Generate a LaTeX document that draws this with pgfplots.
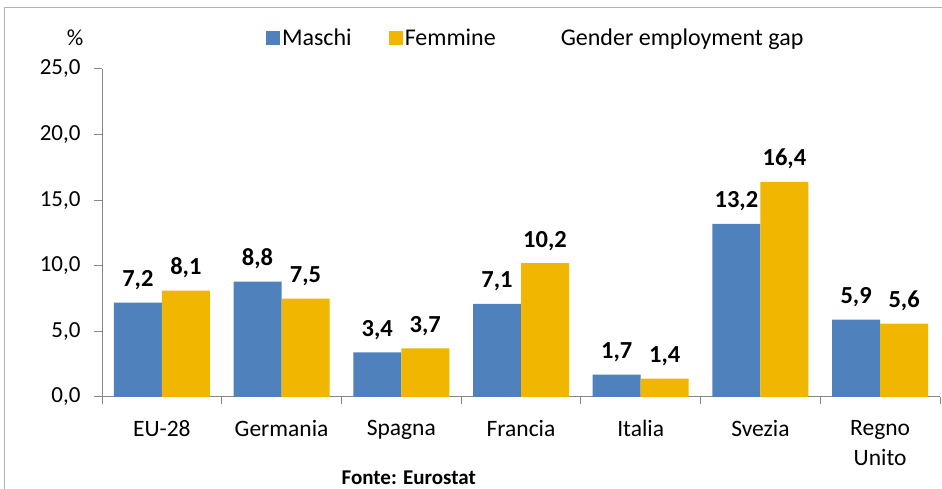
\documentclass[border=0pt]{standalone}
\usepackage{pgfplots}
\pgfplotsset{compat=1.18}
\usepackage{fontspec}
\setmainfont{Carlito}
\definecolor{mblue}{RGB}{79,129,189}
\definecolor{fgold}{RGB}{240,182,0}
\definecolor{axgray}{RGB}{134,134,134}
\begin{document}
\begin{tikzpicture}
\useasboundingbox (0,0) rectangle (942bp,489bp);
\fill[white] (0,0) rectangle (942bp,489bp);
\draw[gray!60, line width=1bp] (4bp,0) -- (4bp,481bp) -- (942bp,481bp);
\begin{axis}[
  at={(102bp,92bp)}, anchor=south west,
  scale only axis, width=838bp, height=328bp,
  ybar=0pt, bar width=48bp,
  xmin=-0.5, xmax=6.5, ymin=0, ymax=25,
  axis x line*=bottom, axis y line*=left,
  axis line style={axgray, line width=1bp},
  xtick={0,...,6},
  xticklabels={EU-28,Germania,Spagna,Francia,Italia,Svezia,{Regno\\Unito}},
  major x tick style={draw=none},
  minor xtick={-0.5,0.5,...,6.5},
  minor x tick style={axgray, line width=1bp},
  minor tick length=7bp,
  xtick pos=bottom, ytick pos=left,
  tick align=outside,
  ytick={0,5,...,25},
  major y tick style={axgray, line width=1bp},
  major tick length=8bp,
  x tick label style={align=center, font=\fontsize{23.5bp}{30bp}\selectfont, yshift=-12bp},
  y tick label style={font=\fontsize{23bp}{24bp}\selectfont, xshift=-10bp},
  /pgf/number format/assume math mode=true,
  /pgf/number format/use comma,
  /pgf/number format/fixed,
  /pgf/number format/fixed zerofill,
  /pgf/number format/precision=1,
  yticklabel style={/pgf/number format/fixed zerofill, /pgf/number format/precision=1},
  nodes near coords,
  every node near coord/.append style={anchor=base, yshift=16bp, inner sep=0pt,
     font=\bfseries\fontsize{24.5bp}{26bp}\selectfont, text=black},
  legend columns=3,
  legend style={draw=none, fill=none, at={(0.192,1.0945)}, anchor=west,
    font=\fontsize{24bp}{24bp}\selectfont,
    /tikz/every even column/.append style={column sep=35bp},
    nodes={inner sep=2bp}},
  legend image code/.code={\fill[#1] (0bp,-7bp) rectangle (14bp,7bp);},
  clip=false,
]
\addplot[fill=mblue, draw=none] coordinates {(0,7.2) (1,8.8) (2,3.4) (3,7.1) (4,1.7) (5,13.2) (6,5.9)};
\addplot[fill=fgold, draw=none] coordinates {(0,8.1) (1,7.5) (2,3.7) (3,10.2) (4,1.4) (5,16.4) (6,5.6)};
\addlegendentry{Maschi}
\addlegendentry{Femmine}
\addlegendimage{empty legend}
\addlegendentry{\hspace{26bp}Gender employment gap}
\node[font=\fontsize{23bp}{24bp}\selectfont] at (axis description cs:-0.032,1.0945) {\%};
\node[font=\bfseries\fontsize{21bp}{22bp}\selectfont] at (axis description cs:0.366,-0.245) {Fonte: Eurostat};
\end{axis}
\end{tikzpicture}
\end{document}
